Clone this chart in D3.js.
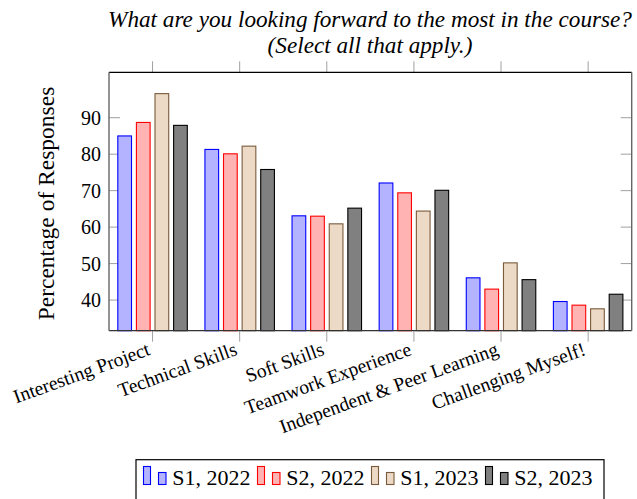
<!DOCTYPE html>
<html>
<head>
<meta charset="utf-8">
<script src="https://cdn.jsdelivr.net/npm/d3@7"></script>
<style>
  html, body { margin: 0; padding: 0; background: #fff; }
  svg { display: block; }
  text { font-family: "Liberation Serif", "DejaVu Serif", serif; fill: #000; }
</style>
</head>
<body>
<svg id="chart" width="637" height="499"></svg>
<script>
const categories = ["Interesting Project", "Technical Skills", "Soft Skills", "Teamwork Experience", "Independent & Peer Learning", "Challenging Myself!"];
const seriesNames = ["S1, 2022", "S2, 2022", "S1, 2023", "S2, 2023"];
const s1_2022 = [85.0, 81.3, 63.1, 72.1, 46.1, 39.6];
const s2_2022 = [88.7, 80.1, 63.0, 69.4, 43.0, 38.6];
const s1_2023 = [96.6, 82.2, 60.9, 64.4, 50.2, 37.6];
const s2_2023 = [87.9, 75.8, 65.2, 70.1, 45.6, 41.6];
const yTicks = [40, 50, 60, 70, 80, 90];
const titleLines = ["What are you looking forward to the most in the course?", "(Select all that apply.)"];
const yLabel = "Percentage of Responses";

const seriesValues = [s1_2022, s2_2022, s1_2023, s2_2023];
const fills = ["#b3b3ff", "#ffb3b3", "#ecd9c6", "#808080"];
const strokes = ["#0000ff", "#ff0000", "#7a5a3a", "#000000"];

const svg = d3.select("#chart");
const L = 109, R = 631.7, T = 72.3, B = 330.7;

const x = d3.scaleLinear().domain([-0.5, categories.length - 0.5]).range([L, R]);
const y = d3.scaleLinear().domain([31.6, 102.45]).range([B, T]);
const barW = 13.7;
const offsets = [-1.5, -0.5, 0.5, 1.5].map(k => k * 18.6);

// y ticks (inside, left and right)
const tickColor = "#a0a0a0";
const tickLen = 11;
svg.append("g").selectAll("line").data(yTicks).join("line")
  .attr("x1", L).attr("x2", L + tickLen)
  .attr("y1", d => y(d)).attr("y2", d => y(d))
  .attr("stroke", tickColor).attr("stroke-width", 1);
svg.append("g").selectAll("line").data(yTicks).join("line")
  .attr("x1", R - tickLen).attr("x2", R)
  .attr("y1", d => y(d)).attr("y2", d => y(d))
  .attr("stroke", tickColor).attr("stroke-width", 1);

// x ticks (outside, top and bottom)
const xIdx = d3.range(categories.length);
svg.append("g").selectAll("line").data(xIdx).join("line")
  .attr("x1", d => x(d)).attr("x2", d => x(d))
  .attr("y1", T - tickLen).attr("y2", T)
  .attr("stroke", tickColor).attr("stroke-width", 1);
svg.append("g").selectAll("line").data(xIdx).join("line")
  .attr("x1", d => x(d)).attr("x2", d => x(d))
  .attr("y1", B).attr("y2", B + tickLen)
  .attr("stroke", tickColor).attr("stroke-width", 1);

// bars
seriesValues.forEach((vals, s) => {
  svg.append("g").selectAll("rect").data(vals).join("rect")
    .attr("x", (d, i) => x(i) + offsets[s] - barW / 2)
    .attr("width", barW)
    .attr("y", d => y(d))
    .attr("height", d => B - y(d))
    .attr("fill", fills[s])
    .attr("stroke", strokes[s])
    .attr("stroke-width", 1.1);
});

// frame
svg.append("line").attr("x1", L).attr("x2", R).attr("y1", T).attr("y2", T).attr("stroke", "#000").attr("stroke-width", 1.2);
svg.append("line").attr("x1", L).attr("x2", R).attr("y1", B).attr("y2", B).attr("stroke", "#333").attr("stroke-width", 1.2);
svg.append("line").attr("x1", L).attr("x2", L).attr("y1", T).attr("y2", B).attr("stroke", "#666").attr("stroke-width", 1.4);
svg.append("line").attr("x1", R).attr("x2", R).attr("y1", T).attr("y2", B).attr("stroke", "#666").attr("stroke-width", 1.4);

// y tick labels
svg.append("g").selectAll("text").data(yTicks).join("text")
  .attr("x", L - 8).attr("y", d => y(d) + 7)
  .attr("text-anchor", "end")
  .style("font-size", "20px")
  .text(d => d);

// x labels rotated
svg.append("g").selectAll("text").data(categories).join("text")
  .attr("text-anchor", "end")
  .attr("dominant-baseline", "hanging")
  .attr("transform", (d, i) => `translate(${x(i) - 6},${B + 11}) rotate(-20)`)
  .style("font-size", "19.5px")
  .text(d => d);

// y label
svg.append("text")
  .attr("transform", `translate(54,${(T + B) / 2 + 2}) rotate(-90)`)
  .attr("text-anchor", "middle")
  .style("font-size", "23.5px")
  .text(yLabel);

// title
svg.append("g").selectAll("text").data(titleLines).join("text")
  .attr("x", 370).attr("y", (d, i) => 27.3 + i * 26)
  .attr("text-anchor", "middle")
  .style("font-size", "23.2px")
  .style("font-style", "italic")
  .text(d => d);

// legend
const lg = svg.append("g");
lg.append("rect").attr("x", 136).attr("y", 459.7).attr("width", 468).attr("height", 45)
  .attr("fill", "#fff").attr("stroke", "#000").attr("stroke-width", 1.2);
const items = lg.selectAll("g.item").data(seriesNames).join("g")
  .attr("class", "item")
  .attr("transform", (d, i) => `translate(${i * 114},0)`);
items.append("rect").attr("x", 143.5).attr("y", 466.5).attr("width", 7).attr("height", 18)
  .attr("fill", (d, i) => fills[i]).attr("stroke", (d, i) => strokes[i]).attr("stroke-width", 1.1);
items.append("rect").attr("x", 158.5).attr("y", 472.5).attr("width", 7.5).attr("height", 12)
  .attr("fill", (d, i) => fills[i]).attr("stroke", (d, i) => strokes[i]).attr("stroke-width", 1.1);
items.append("text").attr("x", 172.3).attr("y", 484.7)
  .style("font-size", "22px")
  .text(d => d);
</script>
</body>
</html>
